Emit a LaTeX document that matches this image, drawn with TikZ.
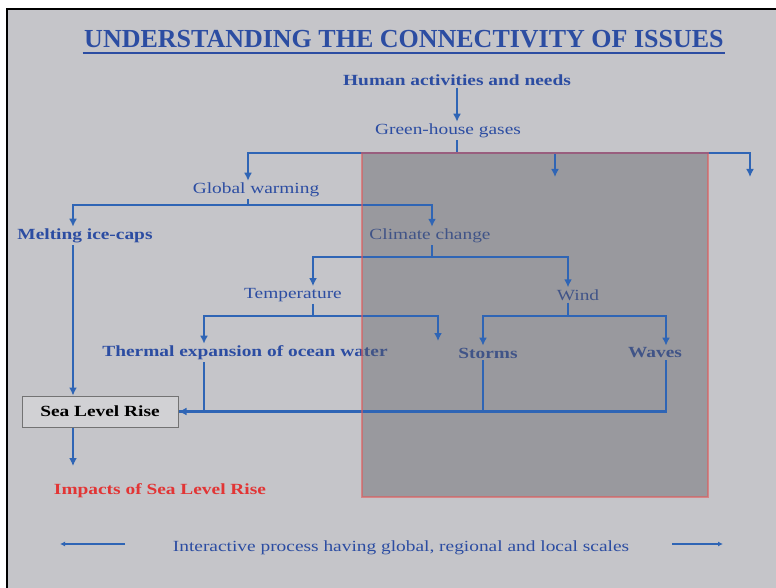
\documentclass[tikz,border=0pt]{standalone}
\usepackage{fontspec}
\setmainfont{Liberation Serif}
\newfontfamily\slidefont{Liberation Serif}[FakeStretch=1.25]
\usetikzlibrary{arrows.meta}

\definecolor{slideback}{HTML}{C5C5C9}
\definecolor{shadebox}{HTML}{5E5E64}
\definecolor{shadeedge}{HTML}{E05A5A}
\definecolor{lineblue}{HTML}{2F65B5}
\definecolor{textblue}{HTML}{2C4DA2}
\definecolor{impactred}{HTML}{E23535}

\tikzset{
  link/.style={draw=lineblue, line width=2.6pt},
  flow/.style={link, -{Latex[length=8pt,width=8pt]}},
  thinflow/.style={draw=lineblue, line width=1.8pt, -{Latex[length=5pt,width=5pt]}},
  lbl/.style={text=textblue, inner sep=2pt, font=\slidefont\fontsize{15.5}{18}\selectfont},
  blbl/.style={lbl, font=\slidefont\bfseries\fontsize{15.5}{18}\selectfont},
}

\begin{document}
\begin{tikzpicture}[x=1pt,y=-1pt]
  \useasboundingbox (0,0) rectangle (776,588);
  \fill[white] (0,0) rectangle (776,588);
  \draw[fill=slideback, line width=1.5pt] (7,9) rectangle (790,600);

  % texts
  \node[text=textblue, font=\bfseries\fontsize{26}{30}\selectfont] (title) at (404,39) {UNDERSTANDING THE CONNECTIVITY OF ISSUES};
  \draw[textblue, line width=2.2pt] ([xshift=2pt,yshift=-1.5pt]title.south west) -- ([xshift=-2pt,yshift=-1.5pt]title.south east);
  \node[blbl] (human) at (457,80) {Human activities and needs};
  \node[lbl] (ghg) at (448,131) {Green-house gases};
  \node[lbl] (gw) at (256,190) {Global warming};
  \node[blbl] (melt) at (85,236) {Melting ice-caps};
  \node[lbl] (climate) at (430,236) {Climate change};
  \node[lbl] (temp) at (293,295) {Temperature};
  \node[lbl] (wind) at (578,295) {Wind};
  \node[blbl] (thermal) at (245,353) {Thermal expansion of ocean water};
  \node[blbl] (storms) at (488,353) {Storms};
  \node[blbl] (waves) at (655,353) {Waves};
  \node[blbl, text=black, draw=black!55, fill=black!4, fill opacity=0.25, text opacity=1,
        minimum width=156pt, minimum height=31pt, line width=1pt] (slr) at (100,411.5) {Sea Level Rise};
  \node[blbl, text=impactred] (impact) at (160,491) {Impacts of Sea Level Rise};
  \node[lbl] (interact) at (401,548) {Interactive process having global, regional and local scales};

  % shaded region
  \fill[shadebox, fill opacity=0.42] (362,153) rectangle (708,497);

  % branch points and free ends
  \coordinate (ghgbus) at (457,153);
  \coordinate (gwbus) at (248,205);
  \coordinate (cbus) at (432,257);
  \coordinate (tbus) at (313,316);
  \coordinate (wbus) at (568,316);
  \coordinate (tipA) at (555,177);
  \coordinate (tipB) at (750,177);
  \coordinate (tipC) at (438,341);
  \coordinate (tipD) at (73,466);
  \coordinate (leftstart) at (125,544);
  \coordinate (leftend) at (60,544);
  \coordinate (rightstart) at (672,544);
  \coordinate (rightend) at (723,544);

  % connectors
  \draw[flow] (human.south -| ghgbus) -- (ghg.north -| ghgbus);
  \draw[link] (ghg.south -| ghgbus) -- (ghgbus);
  \draw[flow] (ghgbus) -| ([xshift=-8pt]gw.north);
  \draw[flow] (ghgbus) -| (tipA);
  \draw[flow] (ghgbus) -| (tipB);

  \draw[link] (gw.south -| gwbus) -- (gwbus);
  \draw[flow] (gwbus) -| ([xshift=-12pt]melt.north);
  \draw[flow] (gwbus) -| ([xshift=2pt]climate.north);
  \draw[flow] ([xshift=-12pt]melt.south) -- ([xshift=-12pt]melt.south |- slr.north);

  \draw[link] (climate.south -| cbus) -- (cbus);
  \draw[flow] (cbus) -| ([xshift=20pt]temp.north);
  \draw[flow] (cbus) -| ([xshift=-10pt]wind.north);

  \draw[link] (temp.south -| tbus) -- (tbus);
  \draw[flow] (tbus) -| ([xshift=-41pt]thermal.north);
  \draw[flow] (tbus) -| (tipC);
  \draw[link] (wind.south -| wbus) -- (wbus);
  \draw[flow] (wbus) -| ([xshift=-5pt]storms.north);
  \draw[flow] (wbus) -| ([xshift=11pt]waves.north);

  \draw[link] ([xshift=-41pt]thermal.south) |- (slr.east);
  \draw[link] ([xshift=-5pt]storms.south) |- (slr.east);
  \draw[flow] ([xshift=11pt]waves.south) |- (slr.east);
  \draw[flow] ([xshift=-27pt]slr.south) -- (tipD);

  \draw[thinflow] (leftstart) -- (leftend);
  \draw[thinflow] (rightstart) -- (rightend);

  % edge of shaded region
  \draw[shadeedge, line width=1.3pt, opacity=0.6] (362,153) rectangle (708,497);
\end{tikzpicture}
\end{document}
